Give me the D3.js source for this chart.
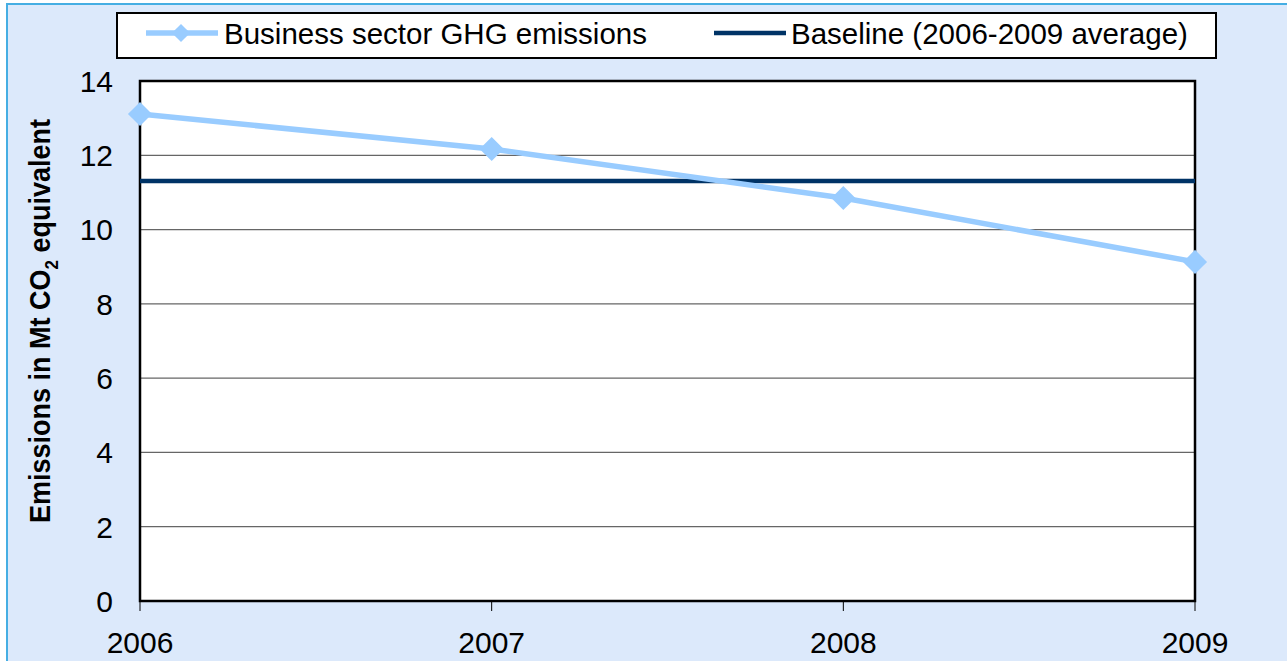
<!DOCTYPE html>
<html><head><meta charset="utf-8">
<script src="https://cdn.jsdelivr.net/npm/d3@7"></script>
<style>body{margin:0;background:#fff;} svg{display:block;font-family:"Liberation Sans",Arial,sans-serif;}</style>
</head><body>
<script>
const years = ["2006","2007","2008","2009"];
const emissions = [13.11, 12.17, 10.85, 9.13];
const baseline = [11.31, 11.31, 11.31, 11.31];
const yTicks = [0,2,4,6,8,10,12,14];
const seriesNames = ["Business sector GHG emissions","Baseline (2006-2009 average)"];

const W=1287,H=661;
const m={left:140,right:1195,top:81,bottom:601};
const svg=d3.select("body").append("svg").attr("width",W).attr("height",H);
svg.append("rect").attr("x",7).attr("y",4).attr("width",W).attr("height",H).attr("fill","#dce9fb").attr("stroke","#45aee3").attr("stroke-width",2);

const x=d3.scalePoint().domain(years).range([m.left,m.right]);
const y=d3.scaleLinear().domain([0,14]).range([m.bottom,m.top]);

svg.append("rect").attr("x",m.left).attr("y",m.top).attr("width",m.right-m.left).attr("height",m.bottom-m.top).attr("fill","#fff");
// grid
svg.append("g").selectAll("line").data(yTicks.filter(d=>d>0&&d<14)).join("line")
 .attr("x1",m.left).attr("x2",m.right).attr("y1",d=>y(d)).attr("y2",d=>y(d)).attr("stroke","#666").attr("stroke-width",1.2);
// y labels
svg.append("g").selectAll("text").data(yTicks).join("text")
 .attr("x",113).attr("y",d=>y(d)).attr("dy","0.36em").attr("text-anchor","end").attr("font-size",30).attr("fill","#000").text(d=>d);
// x ticks
svg.append("g").selectAll("line").data(years).join("line")
 .attr("x1",d=>x(d)).attr("x2",d=>x(d)).attr("y1",m.bottom).attr("y2",m.bottom+10).attr("stroke","#000").attr("stroke-width",1);
svg.append("g").selectAll("text").data(years).join("text")
 .attr("x",d=>x(d)).attr("y",642).attr("dy","0.36em").attr("text-anchor","middle").attr("font-size",30).attr("fill","#000").text(d=>d);
// frame
svg.append("rect").attr("x",m.left).attr("y",m.top).attr("width",m.right-m.left).attr("height",m.bottom-m.top).attr("fill","none").attr("stroke","#000").attr("stroke-width",2.5);

// baseline
const line=d3.line().x((d,i)=>x(years[i])).y(d=>y(d));
svg.append("path").datum(baseline).attr("d",line).attr("fill","none").attr("stroke","#003366").attr("stroke-width",4.5);
svg.append("path").datum(emissions).attr("d",line).attr("fill","none").attr("stroke","#99ccff").attr("stroke-width",5.5);
const diamond=d3.symbol().type(d3.symbolDiamond2).size(370);
svg.append("g").selectAll("path").data(emissions).join("path")
 .attr("transform",(d,i)=>`translate(${x(years[i])},${y(d)})`).attr("d",diamond).attr("fill","#99ccff");

// y title
const yt=svg.append("text").attr("transform","translate(50,321) rotate(-90) scale(1,1.12)").attr("text-anchor","middle")
 .attr("font-size",27).attr("font-weight","bold").attr("fill","#000");
yt.append("tspan").text("Emissions in Mt CO");
yt.append("tspan").attr("font-size",17).attr("dy",7).text("2");
yt.append("tspan").attr("dy",-7).text(" equivalent");

// legend
const lg=svg.append("g");
lg.append("rect").attr("x",117).attr("y",13).attr("width",1099).attr("height",45).attr("fill","#fff").attr("stroke","#000").attr("stroke-width",2);
lg.append("line").attr("x1",146).attr("x2",218).attr("y1",33).attr("y2",33).attr("stroke","#99ccff").attr("stroke-width",5.5);
lg.append("path").attr("transform","translate(181,33)").attr("d",d3.symbol().type(d3.symbolDiamond2).size(210)).attr("fill","#99ccff");
lg.append("text").attr("x",224).attr("y",33).attr("dy","0.36em").attr("font-size",29.5).text(seriesNames[0]);
lg.append("line").attr("x1",714).attr("x2",786).attr("y1",33).attr("y2",33).attr("stroke","#003366").attr("stroke-width",4.5);
lg.append("text").attr("x",791).attr("y",33).attr("dy","0.36em").attr("font-size",29.5).text(seriesNames[1]);
</script>
</body></html>
